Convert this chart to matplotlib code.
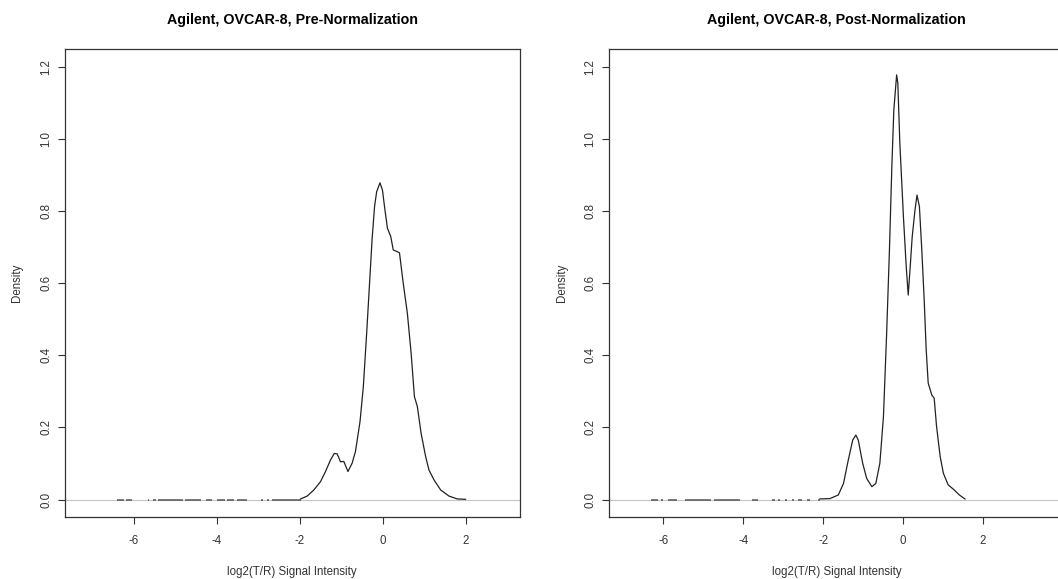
import matplotlib
matplotlib.use("Agg")
import matplotlib.pyplot as plt

plt.rcParams['font.family'] = ['Liberation Sans', 'DejaVu Sans']

# density of log2(T/R) before normalization
pre_x = [-1.98, -1.82, -1.66, -1.50, -1.38, -1.26, -1.17, -1.10, -1.02, -0.94,
         -0.84, -0.74, -0.66, -0.55, -0.47, -0.39, -0.32, -0.26, -0.20, -0.15,
         -0.07, -0.01, 0.04, 0.11, 0.19, 0.25, 0.35, 0.40, 0.49, 0.59,
         0.68, 0.76, 0.83, 0.92, 1.03, 1.11, 1.23, 1.39, 1.59, 1.79, 1.99]
pre_y = [0.002, 0.010, 0.027, 0.050, 0.078, 0.110, 0.128, 0.127, 0.105, 0.106,
         0.078, 0.101, 0.133, 0.216, 0.313, 0.461, 0.600, 0.720, 0.812, 0.853,
         0.878, 0.858, 0.812, 0.752, 0.729, 0.692, 0.687, 0.684, 0.600, 0.516,
         0.406, 0.285, 0.258, 0.184, 0.119, 0.082, 0.055, 0.027, 0.010, 0.002, 0.001]

# density after normalization
post_x = [-2.08, -1.83, -1.62, -1.49, -1.37, -1.26, -1.18, -1.12, -1.01, -0.91,
          -0.78, -0.68, -0.58, -0.49, -0.41, -0.34, -0.28, -0.23, -0.16, -0.13,
          -0.08, 0.01, 0.08, 0.13, 0.18, 0.23, 0.30, 0.35, 0.41, 0.47,
          0.53, 0.58, 0.63, 0.72, 0.78, 0.84, 0.93, 1.01, 1.13, 1.26, 1.41, 1.55]
post_y = [0.002, 0.003, 0.013, 0.045, 0.110, 0.165, 0.179, 0.165, 0.101, 0.059,
          0.036, 0.045, 0.101, 0.230, 0.461, 0.692, 0.923, 1.080, 1.177, 1.154,
          0.988, 0.784, 0.646, 0.567, 0.646, 0.729, 0.803, 0.844, 0.812, 0.692,
          0.553, 0.415, 0.323, 0.290, 0.281, 0.202, 0.119, 0.073, 0.041, 0.029, 0.013, 0.002]

# sparse low-intensity tail, where the density sits just above zero
pre_tail_start = [-6.40, -6.18, -5.66, -5.52, -5.40, -4.76, -4.26, -3.98, -3.74, -3.50,
                  -2.94, -2.80, -2.66]
pre_tail_end = [-6.24, -6.04, -5.62, -5.46, -4.80, -4.38, -4.10, -3.80, -3.58, -3.26,
                -2.88, -2.74, -1.98]
post_tail_start = [-6.30, -6.06, -5.89, -5.45, -4.74, -3.78, -3.28, -3.12, -2.95, -2.78,
                   -2.62, -2.41, -2.12]
post_tail_end = [-6.14, -6.00, -5.66, -4.80, -4.08, -3.62, -3.20, -3.08, -2.90, -2.74,
                 -2.53, -2.33, -2.08]

titles = ["Agilent, OVCAR-8, Pre-Normalization", "Agilent, OVCAR-8, Post-Normalization"]
xlims = [(-7.66, 3.29), (-7.36, 4.03)]
x_ticks = [-6, -4, -2, 0, 2]
y_ticks = [0.0, 0.2, 0.4, 0.6, 0.8, 1.0, 1.2]

fig = plt.figure(figsize=(10.58, 5.79), dpi=100)
ax1 = fig.add_axes([0.0610, 0.1071, 0.4301, 0.8078])
ax2 = fig.add_axes([0.5756, 0.1071, 0.4301, 0.8078])

panels = [
    (ax1, pre_x, pre_y, pre_tail_start, pre_tail_end),
    (ax2, post_x, post_y, post_tail_start, post_tail_end),
]

for i, (ax, xs, ys, ts, te) in enumerate(panels):
    ax.axhline(0, color='#c4c4c4', lw=0.8, zorder=1)
    ax.hlines([0] * len(ts), ts, te, color='#555555', lw=1.1, zorder=2)
    ax.plot(xs, ys, color='#222222', lw=0.9, zorder=3)

    ax.set_xlim(*xlims[i])
    ax.set_ylim(-0.048, 1.248)
    ax.set_xticks(x_ticks)
    ax.set_xticklabels([str(t) for t in x_ticks])
    ax.set_yticks(y_ticks)
    ax.set_yticklabels(['%.1f' % t for t in y_ticks], rotation=90, va='center')

    ax.tick_params(direction='out', length=5, width=0.8, colors='#333333',
                   labelsize=8.3)
    ax.tick_params(axis='x', pad=8)
    ax.tick_params(axis='y', pad=4)
    for s in ax.spines.values():
        s.set_color('#333333')
        s.set_linewidth(0.9)

    ax.set_title(titles[i], fontsize=10.3, fontweight='bold', pad=18)
    ax.set_xlabel('log2(T/R) Signal Intensity', fontsize=8.3, color='#333333')
    ax.set_ylabel('Density', fontsize=8.3, color='#333333')
    ax.xaxis.set_label_coords(0.5, -0.104)
    ax.yaxis.set_label_coords(-0.091, 0.5)

fig.savefig('out.png', dpi=100)
